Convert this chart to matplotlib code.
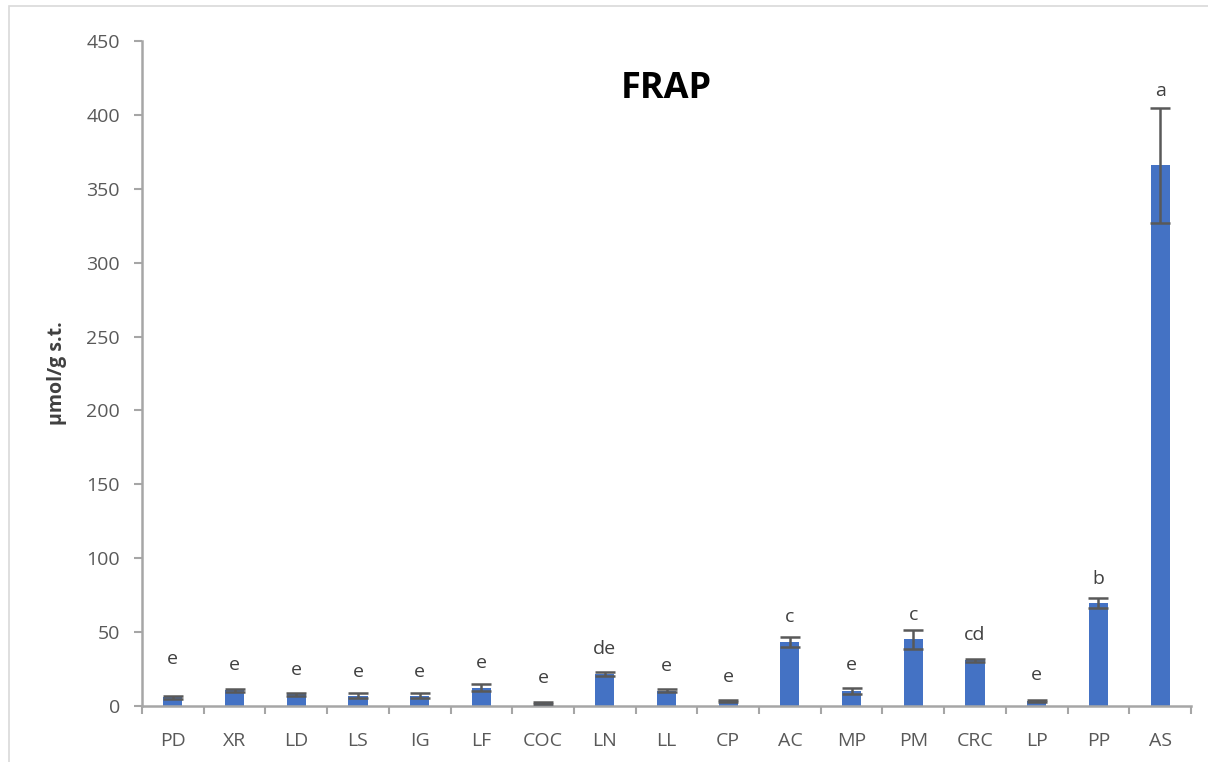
import matplotlib
matplotlib.use("Agg")
import matplotlib.pyplot as plt
from matplotlib.patches import Rectangle

plt.rcParams["font.family"] = ["Open Sans", "DejaVu Sans"]

# FRAP values (umol/g s.t.)
samples = ["PD", "XR", "LD", "LS", "IG", "LF", "COC", "LN", "LL", "CP",
           "AC", "MP", "PM", "CRC", "LP", "PP", "AS"]
frap = [6, 10.8, 8, 7, 7, 12.5, 2, 21.6, 10.4, 3.4,
        43.3, 10.4, 45.1, 31.1, 3.5, 69.7, 366]
frap_err = [1, 1, 1, 1.5, 1.5, 2.5, 0.5, 1.5, 0.8, 0.8,
            3.2, 2, 6.2, 1, 0.6, 3.7, 39]
letters = ["e", "e", "e", "e", "e", "e", "e", "de", "e", "e",
           "c", "e", "c", "cd", "e", "b", "a"]
letter_y = [31.8, 27.7, 24.4, 23.2, 23.2, 29, 19.2, 38.3, 27, 19.8,
            60.4, 27.7, 61.6, 48, 21, 86, 416]

AXIS_GREY = "#a6a6a6"
TEXT_GREY = "#595959"


def draw_chart():
    fig = plt.figure(figsize=(12.08, 7.62), dpi=100)
    fig.patches.append(Rectangle((9 / 1208, -0.1), 1.2, 1.1 - 6 / 762,
                                 transform=fig.transFigure, fill=False,
                                 edgecolor="#d9d9d9", linewidth=1.2))
    ax = fig.add_axes([142 / 1208, 1 - 706 / 762,
                       (1191 - 142) / 1208, (706 - 41) / 762])

    x = range(len(samples))
    ax.bar(x, frap, width=0.31, color="#4472c4", zorder=2)
    ax.errorbar(x, frap, yerr=frap_err, fmt="none", ecolor=TEXT_GREY,
                elinewidth=1.8, capsize=7, capthick=1.8, zorder=3)

    for i, (lab, ly) in enumerate(zip(letters, letter_y)):
        ax.text(i, ly, lab, ha="center", va="center", fontsize=14,
                color="#404040")

    ax.set_xlim(-0.5, len(samples) - 0.5)
    ax.set_ylim(0, 450)
    ax.set_yticks(range(0, 451, 50))
    ax.set_xticks(list(x))
    ax.set_xticklabels(samples)
    ax.set_xticks([i - 0.5 for i in range(len(samples) + 1)], minor=True)

    ax.tick_params(axis="x", which="major", length=0, pad=19,
                   labelsize=14, labelcolor=TEXT_GREY)
    ax.tick_params(axis="x", which="minor", length=6, width=1.5,
                   color=AXIS_GREY, direction="out")
    ax.tick_params(axis="y", length=6, width=1.5, color=AXIS_GREY,
                   pad=10, labelsize=14, labelcolor=TEXT_GREY)

    for side in ["top", "right"]:
        ax.spines[side].set_visible(False)
    for side in ["left", "bottom"]:
        ax.spines[side].set_color(AXIS_GREY)
        ax.spines[side].set_linewidth(1.8)

    ax.set_ylabel("\u03bcmol/g s.t.", fontsize=14, fontweight="bold",
                  color="#404040", labelpad=14)
    ax.text(0.5, (706 - 89) / 665, "FRAP", transform=ax.transAxes,
            ha="center", va="center", fontsize=26, fontweight="bold",
            color="black")
    return fig


fig = draw_chart()
fig.savefig("out.png", dpi=100)
